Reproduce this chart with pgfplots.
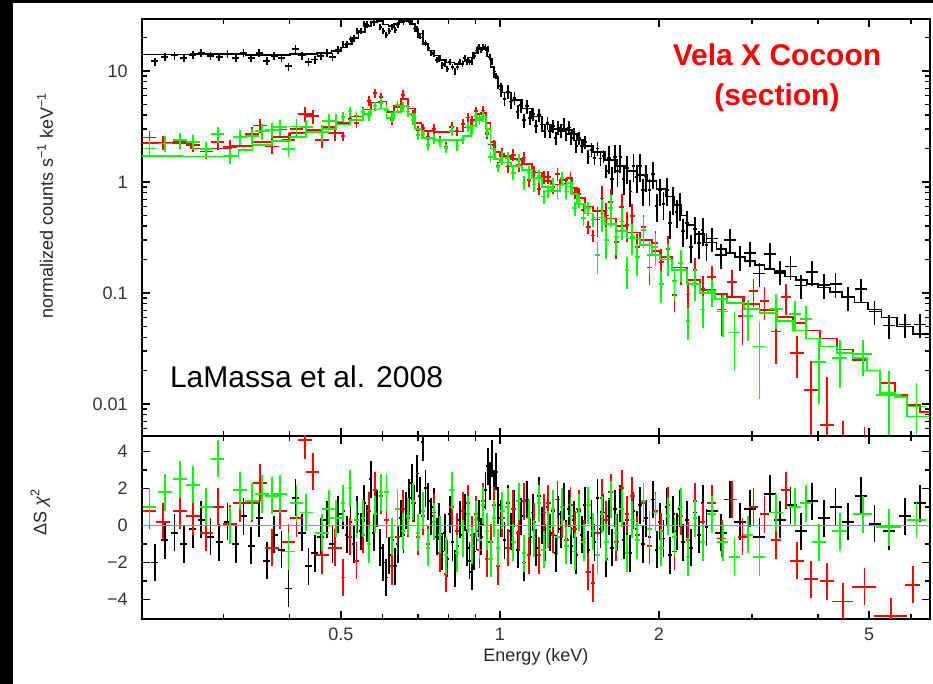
\documentclass[border=0pt]{standalone}
\usepackage{fontspec}
\setmainfont{Liberation Sans}
\usepackage{pgfplots}
\usepackage{pgfplotstable}
\pgfplotsset{compat=1.18}
\definecolor{xred}{RGB}{255,0,0}
\definecolor{xgreen}{RGB}{0,255,0}

% cross marks: name, half width, up, down (fixed relative bins on log axes)
\newcommand\defebar[4]{\pgfdeclareplotmark{#1}{%
  \pgfpathmoveto{\pgfqpoint{-#2}{0pt}}\pgfpathlineto{\pgfqpoint{#2}{0pt}}%
  \pgfpathmoveto{\pgfqpoint{0pt}{-#4}}\pgfpathlineto{\pgfqpoint{0pt}{#3}}%
  \pgfusepathqstroke}}
\pgfdeclareplotmark{nomark}{}
\defebar{ubA}{2.7pt}{2.9pt}{3.1pt}
\defebar{ubB}{1.1pt}{2.3pt}{2.4pt}
\defebar{ubC}{1.3pt}{4.73pt}{5.45pt}
\defebar{ubCC}{1.3pt}{8.92pt}{11.87pt}
\defebar{ubD}{4.5pt}{8.06pt}{10.39pt}
\defebar{urA}{5.07pt}{5.05pt}{5.87pt}
\defebar{urB}{1.6pt}{3.44pt}{3.81pt}
\defebar{urC}{1.8pt}{4.42pt}{5.03pt}
\defebar{urCC}{1.8pt}{9.48pt}{12.89pt}
\defebar{ugA}{5.07pt}{5.37pt}{6.30pt}
\defebar{ugB}{1.6pt}{3.44pt}{3.81pt}
\defebar{ugC}{1.8pt}{4.73pt}{5.45pt}
\defebar{ugCC}{1.8pt}{10.03pt}{13.93pt}
\defebar{lA}{2.7pt}{13.91pt}{13.91pt}
\defebar{lB}{1.1pt}{13.91pt}{13.91pt}
\defebar{lC}{1.3pt}{13.91pt}{13.91pt}
\defebar{lD}{4.5pt}{13.91pt}{13.91pt}
\defebar{lE}{5.07pt}{13.91pt}{13.91pt}
\defebar{lF}{1.6pt}{13.91pt}{13.91pt}
\defebar{lG}{1.8pt}{13.91pt}{13.91pt}

% black spectrum, split by bin size: x  y  residual
\pgfplotstableread{
x y r
0.222 12.2 -2.0
0.232 13.4 -0.8
0.242 13.8 -0.4
0.252 13.2 -1.0
0.262 14.0 -0.2
0.272 14.5 0.3
0.283 13.6 -0.6
0.294 13.3 -0.9
0.305 14.4 0.2
0.316 13.2 -1.0
0.327 14.7 0.5
0.338 13.1 -1.1
0.350 14.6 0.4
0.362 12.3 -1.9
0.374 13.7 -0.5
0.386 13.0 -1.3
0.398 11.0 -3.4
0.410 15.7 1.5
0.422 13.8 -0.4
0.434 12.0 -2.2
0.446 12.7 -1.5
0.458 13.6 -0.6
0.470 14.5 0.3
0.482 13.4 -1.0
0.494 15.5 0.6
}\bA
\pgfplotstableread{
x y r
0.505 17.3 0.8
0.513 17.3 -0.5
0.521 19.4 0.2
0.529 19.6 -1.0
0.537 23.0 0.6
0.545 23.1 -0.3
0.553 26.6 1.2
0.561 26.2 0.1
0.569 31.3 2.5
0.577 27.3 -0.4
0.585 29.3 0.9
0.593 25.1 -1.2
0.601 22.9 -2.0
0.609 21.2 -2.8
0.617 23.1 -1.6
0.625 25.0 -0.8
0.633 23.4 -2.2
0.641 26.1 -1.0
0.649 29.0 0.4
0.657 27.6 -0.5
0.665 29.3 0.8
0.673 28.9 1.5
0.681 27.9 2.3
0.689 24.1 1.2
0.697 24.0 2.8
0.705 20.6 1.6
0.714 21.8 4.5
0.723 17.8 2.0
0.732 16.1 1.3
0.741 14.5 0.5
0.750 14.3 1.0
0.759 12.5 -0.6
0.768 12.8 0.2
0.777 11.2 -1.4
0.786 11.6 -0.4
0.795 10.4 -1.8
0.804 12.0 0.6
0.813 10.9 -0.9
0.822 9.9 -2.3
0.831 10.8 -1.1
0.840 12.0 0.3
0.849 11.7 -0.5
0.858 13.0 0.7
0.867 12.1 -1.2
0.876 12.0 -1.9
0.885 12.2 -2.5
0.894 13.7 -1.4
0.903 15.3 -0.3
0.912 16.4 0.4
0.921 15.5 -0.6
0.930 16.5 1.0
0.939 16.3 1.9
0.948 15.7 3.2
0.957 13.3 2.4
0.966 12.2 3.6
0.975 9.9 2.0
0.984 9.0 2.9
0.993 7.4 1.1
}\bB
\pgfplotstableread{
x y r
1.005 6.8 0.4
1.020 5.6 -0.8
1.035 6.5 1.2
1.050 5.3 -0.3
1.065 5.7 0.9
1.080 4.3 -1.3
1.095 4.9 0.5
1.110 3.6 -2.0
1.125 4.8 1.4
1.140 3.8 -0.6
1.155 4.1 0.7
1.170 3.2 -1.2
1.185 4.0 1.6
1.200 3.3 0.0
1.215 2.9 -0.9
1.230 3.4 1.0
1.245 2.9 -0.4
1.260 3.2 0.8
1.275 2.5 -1.5
1.290 3.1 0.6
1.305 2.9 -0.2
1.320 3.3 1.3
1.335 2.7 -0.7
1.350 3.1 0.9
1.365 2.5 -1.1
1.380 2.7 0.3
1.395 2.1 -1.6
1.410 2.5 0.8
1.430 2.1 -0.5
1.450 2.3 1.1
1.470 1.7 -1.3
1.490 1.95 0.4
1.510 1.64 -0.9
1.530 2.0 1.5
1.550 1.63 -0.2
1.570 1.71 0.7
1.590 1.26 -1.8
}\bC
\pgfplotstableread{
x y r
1.610 1.65 0.5
1.630 1.07 -1.2
1.650 1.69 0.9
1.670 1.25 -0.4
1.690 1.68 1.2
1.715 1.06 -0.8
1.740 1.33 0.3
1.765 0.82 -1.5
1.790 1.40 0.8
1.815 1.11 -0.2
1.840 1.39 1.1
1.865 0.84 -1.0
1.890 1.12 0.4
1.920 0.84 -0.6
1.950 1.19 1.4
1.980 0.61 -1.3
2.010 0.84 0.2
2.040 0.63 -0.7
2.070 0.85 1.0
2.100 0.43 -1.6
2.130 0.70 0.6
2.160 0.54 -0.3
2.190 0.62 0.9
2.220 0.36 -0.9
2.260 0.43 0.3
2.300 0.26 -1.2
2.340 0.38 0.7
2.380 0.28 -0.5
2.420 0.37 1.2
2.460 0.27 -0.1
}\bCC
\pgfplotstableread{
x y r
2.52 0.31 0.8
2.62 0.22 -0.4
2.73 0.30 1.4
2.85 0.21 0.2
2.97 0.23 0.9
3.10 0.15 -0.6
3.24 0.225 1.7
3.39 0.157 0.3
3.55 0.173 1.1
3.72 0.117 -0.3
3.90 0.155 1.3
4.10 0.118 0.4
4.32 0.121 1.0
4.56 0.091 0.2
4.82 0.108 1.6
5.12 0.068 0.1
5.46 0.051 -0.3
5.85 0.052 0.5
6.25 0.052 1.2
}\bD

% red spectrum
\pgfplotstableread{
x y r
0.217 2.52 0.8
0.230 2.27 0.2
0.248 2.35 0.8
0.262 2.17 0.5
0.278 1.88 -0.4
0.292 2.30 1.0
0.308 2.08 0.1
0.322 2.54 1.2
0.339 2.71 1.2
0.351 3.23 2.3
0.370 2.09 -1.2
0.383 2.97 0.8
0.398 2.38 -0.9
0.412 3.02 0.4
0.427 4.10 4.6
0.442 3.90 2.9
0.460 2.39 -1.6
0.487 2.75 -1.2
}\rA
\pgfplotstableread{
x y r
0.505 2.59 -2.8
0.520 3.67 -0.6
0.535 3.40 -1.9
0.550 4.28 -0.5
0.565 5.40 0.8
0.580 6.31 1.9
0.595 5.80 1.6
0.610 4.43 0.3
0.625 3.59 -2.2
0.640 4.70 -0.6
0.655 6.10 0.9
0.670 4.78 0.4
0.685 4.03 1.2
0.700 2.91 -0.6
0.715 3.05 0.5
0.730 2.57 -1.0
0.750 3.00 0.7
0.770 2.38 -1.5
0.790 2.09 -2.6
0.810 3.14 1.0
0.830 2.86 -0.3
0.850 3.35 0.8
0.870 3.81 1.2
0.885 3.61 -0.5
0.900 4.35 0.6
0.915 3.65 -1.3
0.930 4.41 1.3
0.945 2.71 -1.8
0.960 2.18 -0.9
0.975 2.16 1.1
0.990 1.39 -2.2
}\rB
\pgfplotstableread{
x y r
1.010 1.79 0.4
1.035 1.38 -1.2
1.060 1.76 0.9
1.085 1.42 -0.4
1.110 1.66 1.3
1.135 1.04 -1.6
1.160 1.23 0.2
1.185 0.87 -1.6
1.210 1.11 0.7
1.235 1.11 1.2
1.260 0.90 -0.5
1.285 1.18 1.4
1.310 1.09 0.3
1.335 0.97 -0.8
1.360 1.09 1.1
1.385 0.80 -0.2
1.410 0.78 0.9
1.440 0.56 -0.7
1.470 0.39 -2.5
1.500 0.33 -3.1
}\rC
\pgfplotstableread{
x y r
1.53 0.46 -0.4
1.56 0.71 1.5
1.59 0.50 0.3
1.62 0.66 1.8
1.66 0.29 -0.9
1.70 0.60 2.0
1.74 0.41 0.6
1.78 0.49 1.6
1.82 0.26 -0.5
1.87 0.39 1.2
1.92 0.17 -1.1
1.97 0.28 0.8
2.02 0.19 -0.3
2.08 0.25 1.1
2.14 0.096 -1.4
2.20 0.17 0.5
2.27 0.097 -0.8
2.34 0.16 1.3
2.42 0.11 0.2
}\rCC
\pgfplotstableread{
x ex y ep em r
2.52 0.05 0.14 0.035 0.035 1.2
2.63 0.05 0.071 0.030 0.030 -0.7
2.75 0.055 0.125 0.035 0.035 1.4
2.88 0.06 0.062 0.028 0.028 -0.6
3.02 0.06 0.105 0.030 0.030 1.0
3.17 0.065 0.085 0.028 0.028 0.6
3.33 0.07 0.045 0.022 0.022 -0.8
3.48 0.07 0.092 0.028 0.028 1.9
3.65 0.11 0.029 0.012 0.012 -1.9
3.88 0.12 0.0134 0.011 0.0125 -2.9
4.16 0.13 0.0065 0.011 0.006 -3.0
4.46 0.20 0.0025 0.0045 0.002 -4.1
4.90 0.25 0.0022 0.004 0.002 -3.3
5.50 0.40 0.0015 0.003 0.001 -4.9
6.05 0.20 0.003 0.0015 0.002 -3.2
}\rD

% green spectrum
\pgfplotstableread{
x y r
0.217 2.00 1.0
0.232 2.22 1.8
0.248 2.39 2.5
0.262 2.30 2.2
0.278 1.97 1.0
0.292 2.69 3.6
0.308 1.72 0.0
0.322 2.54 1.9
0.339 2.60 1.3
0.354 2.86 1.7
0.370 2.95 1.6
0.383 3.12 1.7
0.398 1.98 -1.4
0.412 3.16 1.2
0.430 3.11 0.7
0.460 2.81 -0.4
0.475 3.55 0.9
0.490 3.51 0.4
}\gA
\pgfplotstableread{
x y r
0.505 3.86 1.2
0.520 4.32 2.0
0.535 3.97 0.3
0.550 4.26 0.4
0.565 3.96 -1.0
0.580 4.82 0.6
0.595 5.19 1.8
0.610 4.48 1.8
0.625 3.85 -0.6
0.640 4.91 0.9
0.655 4.75 -0.3
0.670 4.31 0.5
0.685 3.62 1.3
0.700 2.64 -0.4
0.715 2.70 0.8
0.730 2.16 -1.2
0.750 2.45 0.2
0.770 2.28 -0.5
0.790 2.02 -1.6
0.810 2.88 1.9
0.830 2.13 -1.5
0.850 2.42 -0.7
0.870 3.13 0.6
0.885 2.94 -1.1
0.900 3.91 0.3
0.915 3.59 -0.8
0.930 3.89 1.1
0.945 2.81 -0.3
0.960 1.68 -1.8
0.975 1.77 0.4
0.990 1.36 -1.2
}\gB
\pgfplotstableread{
x y r
1.010 1.66 0.8
1.035 1.64 1.0
1.060 1.21 -0.9
1.085 1.56 1.3
1.110 0.99 -1.5
1.135 1.22 0.4
1.160 0.95 -0.7
1.185 1.13 1.2
1.210 0.74 -1.3
1.235 0.83 -0.2
1.260 0.95 0.9
1.285 0.82 -0.6
1.310 1.08 1.0
1.335 0.82 -1.1
1.360 0.91 0.5
1.385 0.58 -1.4
1.410 0.68 0.7
1.440 0.47 -0.9
1.470 0.58 1.1
1.500 0.46 -0.3
}\gC
\pgfplotstableread{
x y r
1.53 0.22 -1.6
1.56 0.52 0.6
1.59 0.30 -0.9
1.62 0.58 1.4
1.66 0.32 -0.4
1.70 0.44 0.9
1.74 0.16 -1.5
1.78 0.32 0.3
1.82 0.21 -0.8
1.87 0.37 1.3
1.92 0.22 -0.2
1.97 0.26 0.7
2.02 0.12 -1.2
2.08 0.21 0.5
2.14 0.128 -0.6
2.20 0.185 1.0
2.27 0.056 -1.7
2.34 0.124 0.4
2.42 0.071 -0.9
}\gCC
\pgfplotstableread{
x ex y ep em r
2.52 0.05 0.105 0.030 0.030 0.6
2.64 0.06 0.068 0.028 0.028 -0.9
2.78 0.07 0.044 0.024 0.024 -1.7
2.95 0.07 0.062 0.025 0.025 -0.5
3.10 0.08 0.033 0.022 0.022 -1.7
3.33 0.10 0.072 0.025 0.025 0.7
3.62 0.10 0.065 0.020 0.020 1.0
3.80 0.10 0.058 0.018 0.018 1.2
4.02 0.12 0.024 0.014 0.014 -0.9
4.40 0.15 0.026 0.012 0.012 -0.3
4.87 0.20 0.028 0.010 0.010 0.6
5.45 0.30 0.012 0.008 0.008 -0.1
6.15 0.25 0.0095 0.006 0.006 0.3
}\gD

\pgfplotsset{
  eb/.style 2 args={#1, only marks, mark=#2, line width=1.35pt, mark options={solid, line width=1.35pt}},
  datD/.style={#1, only marks, mark=nomark, line width=1.35pt,
    error bars/x dir=both, error bars/y dir=both,
    error bars/x explicit, error bars/y explicit,
    error bars/error mark=none,
    error bars/error bar style={line width=1.35pt}},
  resD/.style={#1, only marks, mark=nomark, line width=1.35pt,
    error bars/x dir=both, error bars/y dir=both,
    error bars/x explicit, error bars/y fixed=1,
    error bars/error mark=none,
    error bars/error bar style={line width=1.35pt}},
  model/.style={#1, const plot, mark=none, line width=1.3pt},
}

\begin{document}
\begin{tikzpicture}
\fill[white] (0,0) rectangle (699.75pt,513pt);
\fill[black] (0,0) rectangle (9.75pt,513pt);
\fill[black] (0,510.75pt) rectangle (699.75pt,513pt);
\path[use as bounding box] (0,0) rectangle (699.75pt,513pt);

\begin{axis}[
  scale only axis, width=591pt, height=312.75pt,
  at={(106.5pt,186pt)}, anchor=south west,
  xmode=log, ymode=log,
  xmin=0.21, xmax=6.52, ymin=0.00515, ymax=29.4,
  clip marker paths=true,
  axis line style={line width=1.5pt},
  tick style={line width=1pt, black},
  major tick length=6pt, minor tick length=4pt,
  tick align=inside,
  xtick={0.5,1,2,5}, minor xtick={0.3,0.4,0.6,0.7,0.8,0.9,3,4,6},
  xticklabel=\empty,
  ytick={0.01,0.1,1,10}, yticklabels={0.01,0.1,1,10},
  minor ytick={0.006,0.007,0.008,0.009,0.02,0.03,0.04,0.05,0.06,0.07,0.08,0.09,
    0.2,0.3,0.4,0.5,0.6,0.7,0.8,0.9,2,3,4,5,6,7,8,9,20},
  yticklabel style={font=\fontsize{13.5}{16}\selectfont, text=black!80, inner sep=0pt, xshift=-10.5pt},
  ylabel={normalized counts s\textsuperscript{−1} keV\textsuperscript{−1}},
  ylabel style={font=\fontsize{13.5}{16}\selectfont, text=black!85,
    at={(axis description cs:-0.123,0.552)}, anchor=center},
]
\addplot[eb={black}{ubA}] table[x=x,y=y] {\bA};
\addplot[eb={black}{ubB}] table[x=x,y=y] {\bB};
\addplot[eb={black}{ubC}] table[x=x,y=y] {\bC};
\addplot[eb={black}{ubCC}] table[x=x,y=y] {\bCC};
\addplot[eb={black}{ubD}] table[x=x,y=y] {\bD};
\addplot[model=black] coordinates {
(0.21,14.1)(0.26,14.2)(0.33,14.0)(0.40,14.3)(0.45,14.6)(0.48,15.2)(0.50,16.3)
(0.51,17.5)(0.525,19.8)(0.54,22.5)(0.555,25.3)(0.57,27.5)(0.585,28)(0.60,26.2)
(0.615,25.5)(0.63,26.6)(0.645,28)(0.66,28.3)(0.675,26.5)(0.69,23)(0.70,20)
(0.715,17.5)(0.73,15.3)(0.75,13.8)(0.77,12.6)(0.79,11.9)(0.82,11.5)(0.85,12.2)
(0.87,13.2)(0.89,14.6)(0.91,16)(0.93,15.7)(0.945,13.5)(0.96,10.8)(0.975,8.8)
(0.99,7.3)(1.01,6.4)(1.05,5.5)(1.1,4.6)(1.15,3.9)(1.2,3.3)(1.25,3.0)(1.34,2.92)
(1.37,2.7)(1.40,2.4)(1.44,2.12)(1.5,1.85)(1.58,1.57)(1.66,1.40)(1.74,1.26)
(1.82,1.16)(1.9,1.02)(1.98,0.87)(2.06,0.74)(2.14,0.62)(2.2,0.50)(2.26,0.41)
(2.34,0.34)(2.44,0.285)(2.57,0.25)(2.68,0.23)(2.79,0.21)(2.91,0.195)(3.04,0.18)
(3.17,0.165)(3.31,0.152)(3.47,0.141)(3.63,0.131)(3.81,0.121)(4.0,0.112)
(4.21,0.102)(4.44,0.092)(4.69,0.082)(4.97,0.071)(5.28,0.06)(5.64,0.05)
(6.05,0.043)(6.6,0.043)};

\addplot[eb={xred}{urA}] table[x=x,y=y] {\rA};
\addplot[eb={xred}{urB}] table[x=x,y=y] {\rB};
\addplot[eb={xred}{urC}] table[x=x,y=y] {\rC};
\addplot[eb={xred}{urCC}] table[x=x,y=y] {\rCC};
\addplot[datD=xred] table[x=x,y=y,x error=ex,y error plus=ep,y error minus=em] {\rD};
\addplot[model=xred] coordinates {
(0.21,2.25)(0.26,2.0)(0.31,2.1)(0.34,2.3)(0.37,2.55)(0.40,2.75)(0.43,2.95)
(0.46,3.15)(0.49,3.4)(0.52,3.9)(0.55,4.5)(0.57,5.2)(0.59,5.3)(0.61,4.3)
(0.63,4.9)(0.65,5.6)(0.67,4.6)(0.69,3.4)(0.71,2.9)(0.75,2.8)(0.80,2.85)
(0.85,3.1)(0.88,3.6)(0.90,4.1)(0.92,4.2)(0.94,3.4)(0.96,2.3)(0.98,1.85)
(1.00,1.72)(1.05,1.6)(1.10,1.45)(1.15,1.22)(1.20,1.02)(1.25,0.95)(1.30,1.05)
(1.34,1.08)(1.37,0.88)(1.40,0.72)(1.45,0.6)(1.50,0.55)(1.58,0.47)(1.66,0.40)
(1.74,0.35)(1.84,0.30)(1.94,0.24)(2.01,0.21)(2.12,0.17)(2.26,0.13)(2.39,0.107)
(2.55,0.098)(2.69,0.092)(2.9,0.08)(3.1,0.07)(3.35,0.061)(3.59,0.054)(3.8,0.046)
(4.04,0.039)(4.35,0.031)(4.66,0.025)(4.95,0.02)(5.25,0.0155)(5.6,0.012)
(5.9,0.0098)(6.24,0.0085)(6.6,0.0085)};

\addplot[eb={xgreen}{ugA}] table[x=x,y=y] {\gA};
\addplot[eb={xgreen}{ugB}] table[x=x,y=y] {\gB};
\addplot[eb={xgreen}{ugC}] table[x=x,y=y] {\gC};
\addplot[eb={xgreen}{ugCC}] table[x=x,y=y] {\gCC};
\addplot[datD=xgreen] table[x=x,y=y,x error=ex,y error plus=ep,y error minus=em] {\gD};
\addplot[model=xgreen] coordinates {
(0.21,1.72)(0.25,1.70)(0.31,1.72)(0.32,1.95)(0.34,2.15)(0.37,2.35)(0.40,2.55)
(0.43,2.8)(0.46,3.0)(0.49,3.3)(0.52,3.6)(0.55,4.1)(0.57,4.5)(0.59,4.6)
(0.61,3.8)(0.63,4.3)(0.65,4.9)(0.67,4.1)(0.69,3.0)(0.71,2.5)(0.75,2.4)
(0.80,2.4)(0.85,2.6)(0.88,3.2)(0.90,3.8)(0.92,3.9)(0.94,3.0)(0.96,2.0)
(0.98,1.6)(1.00,1.5)(1.05,1.4)(1.10,1.28)(1.15,1.08)(1.20,0.9)(1.25,0.83)
(1.30,0.95)(1.34,0.98)(1.37,0.78)(1.40,0.63)(1.45,0.52)(1.50,0.48)(1.58,0.42)
(1.66,0.36)(1.74,0.31)(1.84,0.27)(1.94,0.22)(2.01,0.2)(2.12,0.16)(2.26,0.12)
(2.39,0.1)(2.55,0.088)(2.69,0.081)(2.9,0.072)(3.1,0.066)(3.35,0.056)
(3.59,0.046)(3.8,0.039)(4.04,0.033)(4.35,0.029)(4.66,0.026)(4.95,0.02)
(5.25,0.0126)(5.6,0.0115)(5.9,0.0077)(6.24,0.0077)(6.6,0.0077)};
\end{axis}

\begin{axis}[
  scale only axis, width=591pt, height=137.25pt,
  at={(106.5pt,48.75pt)}, anchor=south west,
  xmode=log,
  xmin=0.21, xmax=6.52, ymin=-5.04, ymax=4.825,
  clip marker paths=true,
  axis line style={line width=1.5pt},
  tick style={line width=1pt, black},
  major tick length=6pt, minor tick length=4pt,
  tick align=inside,
  xtick={0.5,1,2,5}, minor xtick={0.3,0.4,0.6,0.7,0.8,0.9,3,4,6},
  xticklabels={0.5,1,2,5},
  ytick={-4,-2,0,2,4}, yticklabels={−4,−2,0,2,4},
  minor ytick={-3,-1,1,3},
  xticklabel style={font=\fontsize{13.5}{16}\selectfont, text=black!80, inner sep=0pt, yshift=-6.75pt},
  yticklabel style={font=\fontsize{13.5}{16}\selectfont, text=black!80, inner sep=0pt, xshift=-10.5pt},
  xlabel={Energy (keV)},
  xlabel style={font=\fontsize{13.5}{16}\selectfont, text=black!85,
    at={(axis description cs:0.5,-0.208)}, anchor=center},
  ylabel={ΔS \textit{χ}\textsuperscript{2}},
  ylabel style={font=\fontsize{13.5}{16}\selectfont, text=black!85,
    at={(axis description cs:-0.129,0.585)}, anchor=center},
]
\addplot[eb={black}{lA}] table[x=x,y=r] {\bA};
\addplot[eb={black}{lB}] table[x=x,y=r] {\bB};
\addplot[eb={black}{lC}] table[x=x,y=r] {\bC};
\addplot[eb={black}{lC}] table[x=x,y=r] {\bCC};
\addplot[eb={black}{lD}] table[x=x,y=r] {\bD};
\addplot[eb={xred}{lE}] table[x=x,y=r] {\rA};
\addplot[eb={xred}{lF}] table[x=x,y=r] {\rB};
\addplot[eb={xred}{lG}] table[x=x,y=r] {\rC};
\addplot[eb={xred}{lG}] table[x=x,y=r] {\rCC};
\addplot[resD=xred] table[x=x,y=r,x error=ex] {\rD};
\addplot[eb={xgreen}{lE}] table[x=x,y=r] {\gA};
\addplot[eb={xgreen}{lF}] table[x=x,y=r] {\gB};
\addplot[eb={xgreen}{lG}] table[x=x,y=r] {\gC};
\addplot[eb={xgreen}{lG}] table[x=x,y=r] {\gCC};
\addplot[resD=xgreen] table[x=x,y=r,x error=ex] {\gD};
\addplot[xgreen, line width=1.3pt, mark=none] coordinates {(0.21,0) (6.6,0)};
\end{axis}

\node[font=\fontsize{22.5}{30}\selectfont\bfseries, text=xred, align=center]
  at (582.75pt,455pt) {Vela X Cocoon\\(section)};
\node[font=\fontsize{22.5}{27}\selectfont] at (229.9pt,230.25pt) {LaMassa et al. 2008};
\end{tikzpicture}
\end{document}
